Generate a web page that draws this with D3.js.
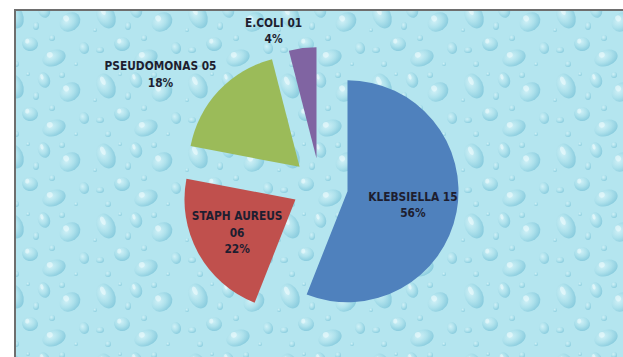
<!DOCTYPE html>
<html lang="en">
<head>
<meta charset="UTF-8">
<title>Isolates pie</title>
<script src="https://d3js.org/d3.v7.min.js"></script>
<style>
  html, body { margin: 0; padding: 0; background: #fff; overflow: hidden; }
  svg { display: block; }
  .label {
    font-family: "DejaVu Sans Condensed", "DejaVu Sans", sans-serif;
    font-stretch: condensed;
    font-size: 11.8px;
    font-weight: bold;
    fill: #1e1e30;
  }
</style>
</head>
<body>
<svg id="chart"></svg>
<script>
// data
const organisms = ["KLEBSIELLA", "STAPH AUREUS", "PSEUDOMONAS", "E.COLI"];
const isolates = ["15", "06", "05", "01"];
const percents = [56, 22, 18, 4];

const W = 623, H = 357;
const cx = 320, cy = 186, radius = 111, explode = 28;
const lineH = 16.5;

const svg = d3.select("#chart").attr("width", W).attr("height", H);
const defs = svg.append("defs");

// water droplet texture for the chart area
const grad = defs.append("radialGradient").attr("id", "drop")
  .attr("cx", "40%").attr("cy", "35%").attr("r", "65%");
grad.append("stop").attr("offset", "0%").attr("stop-color", "#d8f4f9");
grad.append("stop").attr("offset", "55%").attr("stop-color", "#ace0eb");
grad.append("stop").attr("offset", "100%").attr("stop-color", "#7ec5d9");

const pat = defs.append("pattern").attr("id", "water")
  .attr("patternUnits", "userSpaceOnUse").attr("width", 92).attr("height", 70);
pat.append("rect").attr("width", 92).attr("height", 70).attr("fill", "#b4e5ef");
const texture = [
  [14, 16, 9, 13, -25], [44, 10, 6, 8, -20], [70, 22, 11, 9, -35],
  [30, 44, 8, 7, 10], [8, 50, 4, 3, 0], [36, 26, 3, 4, 0],
  [62, 5, 3, 3, 0], [54, 58, 12, 8, -20], [3, 30, 2, 2, 0], [28, 4, 2, 2, 0],
  [84, 48, 5, 6, -15], [76, 64, 2, 2, 0], [16, 64, 3, 3, 0], [52, 38, 3, 3, 0]
];
pat.selectAll("ellipse.d").data(texture).join("ellipse")
  .attr("class", "d")
  .attr("transform", d => `translate(${d[0]},${d[1]}) rotate(${d[4]})`)
  .attr("rx", d => d[2]).attr("ry", d => d[3])
  .attr("fill", "url(#drop)").attr("opacity", 0.75);
pat.selectAll("ellipse.h").data(texture.filter(d => d[2] > 5)).join("ellipse")
  .attr("class", "h")
  .attr("transform", d => `translate(${d[0] - d[2] * 0.35},${d[1] - d[3] * 0.4}) rotate(${d[4]})`)
  .attr("rx", d => d[2] * 0.25).attr("ry", d => d[3] * 0.35)
  .attr("fill", "#effbfd").attr("opacity", 0.6);

svg.append("rect").attr("width", W).attr("height", H).attr("fill", "#ffffff");
svg.append("rect")
  .attr("x", 15).attr("y", 10)
  .attr("width", W).attr("height", H)
  .attr("fill", "url(#water)")
  .attr("stroke", "#6e6e6e").attr("stroke-width", 2);

// pie
const color = d3.scaleOrdinal()
  .domain(organisms)
  .range(["#4f81bd", "#c0504d", "#9bbb59", "#8064a2"]);

const rows = organisms.map((name, i) => ({ name, count: isolates[i], value: percents[i] }));
const total = d3.sum(percents);
const pct = d3.format(".0%");

const pie = d3.pie().sort(null).value(d => d.value);
const arc = d3.arc().innerRadius(0).outerRadius(radius);
const slices = pie(rows);

const dir = d => {
  const a = (d.startAngle + d.endAngle) / 2;
  return [Math.sin(a), -Math.cos(a)];
};

const g = svg.append("g").attr("transform", `translate(${cx},${cy})`);

g.selectAll("path")
  .data(slices)
  .join("path")
  .attr("transform", d => {
    const [ux, uy] = dir(d);
    return `translate(${ux * explode},${uy * explode})`;
  })
  .attr("d", arc)
  .attr("fill", d => color(d.data.name));

// labels: small slices outside the end, others inside (wrapped if too wide)
const maxInside = 96;
const measure = g.append("text").attr("class", "label");
function textWidth(s) {
  measure.text(s);
  return measure.node().getComputedTextLength();
}

slices.forEach(d => {
  const [ux, uy] = dir(d);
  const ox = ux * explode, oy = uy * explode;
  const share = d.data.value / total;
  const outside = share < 0.2;
  const title = `${d.data.name} ${d.data.count}`;
  let lines;
  if (!outside && textWidth(title) > maxInside) {
    const k = title.lastIndexOf(" ");
    lines = [title.slice(0, k), title.slice(k + 1), pct(share)];
  } else {
    lines = [title, pct(share)];
  }
  const w = d3.max(lines, textWidth);
  const h = lines.length * lineH;

  let mx, my;
  if (outside) {
    const ax = ox + ux * (radius + 3), ay = oy + uy * (radius + 3);
    mx = ax + (ux < 0 ? -w / 2 : w / 2);
    my = ay + (uy < 0 ? -h / 2 : h / 2) + 2;
  } else {
    mx = ox + ux * radius * 0.6;
    my = oy + uy * radius * 0.6 + 1;
  }

  const t = g.append("text").attr("class", "label").attr("text-anchor", "middle");
  t.selectAll("tspan").data(lines).join("tspan")
    .attr("x", mx)
    .attr("y", (s, i) => my - h / 2 + lineH * (i + 0.5))
    .attr("dy", "0.35em")
    .text(s => s);
});
measure.remove();
</script>
</body>
</html>
